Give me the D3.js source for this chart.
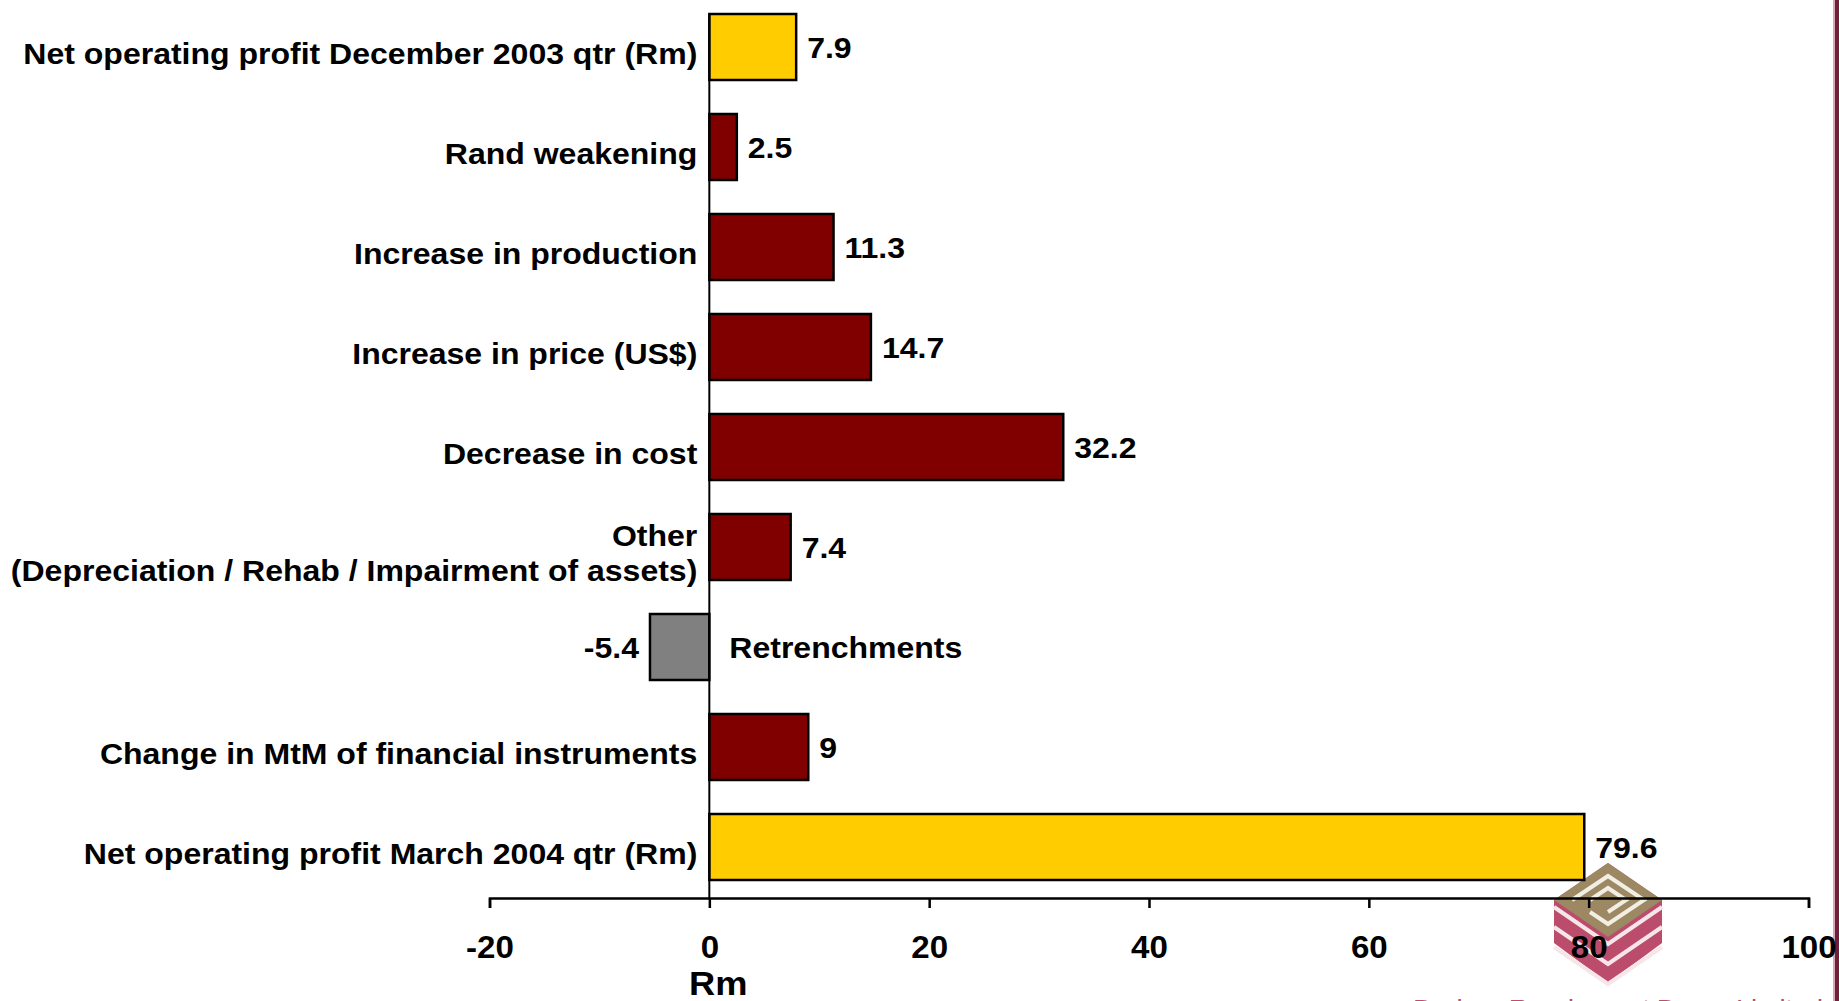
<!DOCTYPE html>
<html>
<head>
<meta charset="utf-8">
<script src="https://cdn.jsdelivr.net/npm/d3@7"></script>
<style>
  html, body { margin: 0; padding: 0; background: #ffffff; overflow: hidden; }
  svg { display: block; font-family: "Liberation Sans", Arial, sans-serif; font-weight: bold; }
</style>
</head>
<body>
<svg id="chart" width="1839" height="1001"></svg>
<script>
// ---- data ----
const categories = [
  "Net operating profit December 2003 qtr (Rm)",
  "Rand weakening",
  "Increase in production",
  "Increase in price (US$)",
  "Decrease in cost",
  "Other|(Depreciation / Rehab / Impairment of assets)",
  "Retrenchments",
  "Change in MtM of financial instruments",
  "Net operating profit March 2004 qtr (Rm)"
];
const values = [7.9, 2.5, 11.3, 14.7, 32.2, 7.4, -5.4, 9, 79.6];
const kinds = ["total", "up", "up", "up", "up", "up", "down", "up", "total"];
const tickValues = [-20, 0, 20, 40, 60, 80, 100];
const axisTitle = "Rm";
const footerText = "Durban Roodepoort Deep, Limited";

const colors = { total: "#FFCC00", up: "#800000", down: "#808080" };

(function () {
const svg = d3.select("#chart");
const W = 1839, H = 1001;
const FS = 30, SX = 1.067;
const stretch = ax => `matrix(${SX},0,0,1,${-(SX - 1) * ax},0)`;

const x = d3.scaleLinear().domain([-20, 100]).range([489.5, 1808.5]);
const y = d3.scaleBand().domain(categories).range([-3, 897]).paddingInner(0.34).paddingOuter(0.17);

// ---- logo (behind chart) ----
const logo = svg.append("g").attr("class", "logo");
const lcx = 1608, ltop = 863, hw = 54;
logo.append("polygon")
  .attr("points", [[lcx, ltop], [lcx + hw, ltop + 37], [lcx + hw, ltop + 80], [lcx, ltop + 120], [lcx - hw, ltop + 80], [lcx - hw, ltop + 37]].join(" "))
  .attr("fill", "#b4385c").attr("opacity", 0.9);
[0, 20, 40].forEach(o => {
  logo.append("polyline")
    .attr("points", [[lcx - hw, ltop + 44 + o], [lcx, ltop + 81 + o], [lcx + hw, ltop + 44 + o]].join(" "))
    .attr("fill", "none").attr("stroke", "#f6e6ea").attr("stroke-width", 4);
});
logo.append("polygon")
  .attr("points", [[lcx, ltop], [lcx + hw, ltop + 37], [lcx, ltop + 74], [lcx - hw, ltop + 37]].join(" "))
  .attr("fill", "#9c8862");
const maze = [
  [[lcx - 36, ltop + 37], [lcx, ltop + 13], [lcx + 36, ltop + 37], [lcx, ltop + 61], [lcx - 18, ltop + 49]],
  [[lcx - 18, ltop + 37], [lcx, ltop + 25], [lcx + 18, ltop + 37], [lcx, ltop + 49]]
];
maze.forEach(p => logo.append("polyline").attr("points", p.join(" "))
  .attr("fill", "none").attr("stroke", "#f3eee4").attr("stroke-width", 4));

// footer text (mostly cut off at bottom, as in the source slide)
svg.append("text")
  .attr("x", 1413).attr("y", 1019)
  .attr("font-size", 28).attr("font-weight", "normal")
  .attr("fill", "#c24a6e")
  .attr("textLength", 410)
  .text(footerText);

// right border
svg.append("rect").attr("x", 1833).attr("y", 0).attr("width", 2).attr("height", H).attr("fill", "#d9a5b5");
svg.append("rect").attr("x", 1835).attr("y", 0).attr("width", 4).attr("height", H).attr("fill", "#6e1f3a");

// ---- bars ----
svg.append("g").selectAll("rect")
  .data(values)
  .join("rect")
  .attr("x", d => x(Math.min(0, d)))
  .attr("y", (d, i) => y(categories[i]))
  .attr("width", d => Math.abs(x(d) - x(0)))
  .attr("height", y.bandwidth())
  .attr("fill", (d, i) => colors[kinds[i]])
  .attr("stroke", "#000").attr("stroke-width", 2.5);

// vertical zero line
svg.append("line")
  .attr("x1", x(0)).attr("x2", x(0))
  .attr("y1", y(categories[0])).attr("y2", 898)
  .attr("stroke", "#000").attr("stroke-width", 2);

// ---- x axis ----
const axis = svg.append("g")
  .attr("transform", "translate(0,898)")
  .call(d3.axisBottom(x).tickValues(tickValues).tickSize(10).tickSizeOuter(10).tickPadding(28).tickFormat(d => String(d)));
axis.select(".domain").attr("stroke", "#000").attr("stroke-width", 2.5);
axis.selectAll(".tick line").attr("stroke", "#000").attr("stroke-width", 2.5);
axis.selectAll(".tick text")
  .attr("font-family", "Liberation Sans, Arial, sans-serif")
  .attr("font-weight", "bold").attr("font-size", FS + 1).attr("fill", "#000")
  .attr("transform", stretch(0));

svg.append("text")
  .attr("x", x(0) + 9).attr("y", 995)
  .attr("text-anchor", "middle")
  .attr("font-size", 34).attr("fill", "#000")
  .attr("transform", stretch(x(0) + 9))
  .text(axisTitle);

// ---- value labels ----
const fmt = d => String(d);
svg.append("g").selectAll("text")
  .data(values)
  .join("text")
  .attr("x", d => d >= 0 ? x(d) + 11 : x(d) - 11)
  .attr("y", (d, i) => y(categories[i]) + y.bandwidth() / 2)
  .attr("dy", "0.36em")
  .attr("text-anchor", d => d >= 0 ? "start" : "end")
  .attr("font-size", FS).attr("fill", "#000")
  .attr("transform", d => stretch(d >= 0 ? x(d) + 11 : x(d) - 11))
  .text(fmt);

// ---- category labels ----
const labels = svg.append("g");
categories.forEach((c, i) => {
  const v = values[i];
  const cyy = y(c) + y.bandwidth() / 2;
  const lines = c.split("|");
  const t = labels.append("text")
    .attr("font-size", FS).attr("fill", "#000");
  if (v < 0) {
    const ax = x(0) + 20;
    t.attr("x", ax).attr("text-anchor", "start")
      .attr("y", cyy).attr("dy", "0.36em")
      .attr("transform", stretch(ax)).text(lines[0]);
  } else {
    const ax = x(0) - 12;
    t.attr("x", ax).attr("text-anchor", "end").attr("transform", stretch(ax));
    const lh = 35;
    const base = cyy + 17 - (lines.length - 1) * lh / 2;
    lines.forEach((ln, k) => {
      t.append("tspan").attr("x", ax).attr("y", base + k * lh).text(ln);
    });
  }
});
})();
</script>
</body>
</html>
